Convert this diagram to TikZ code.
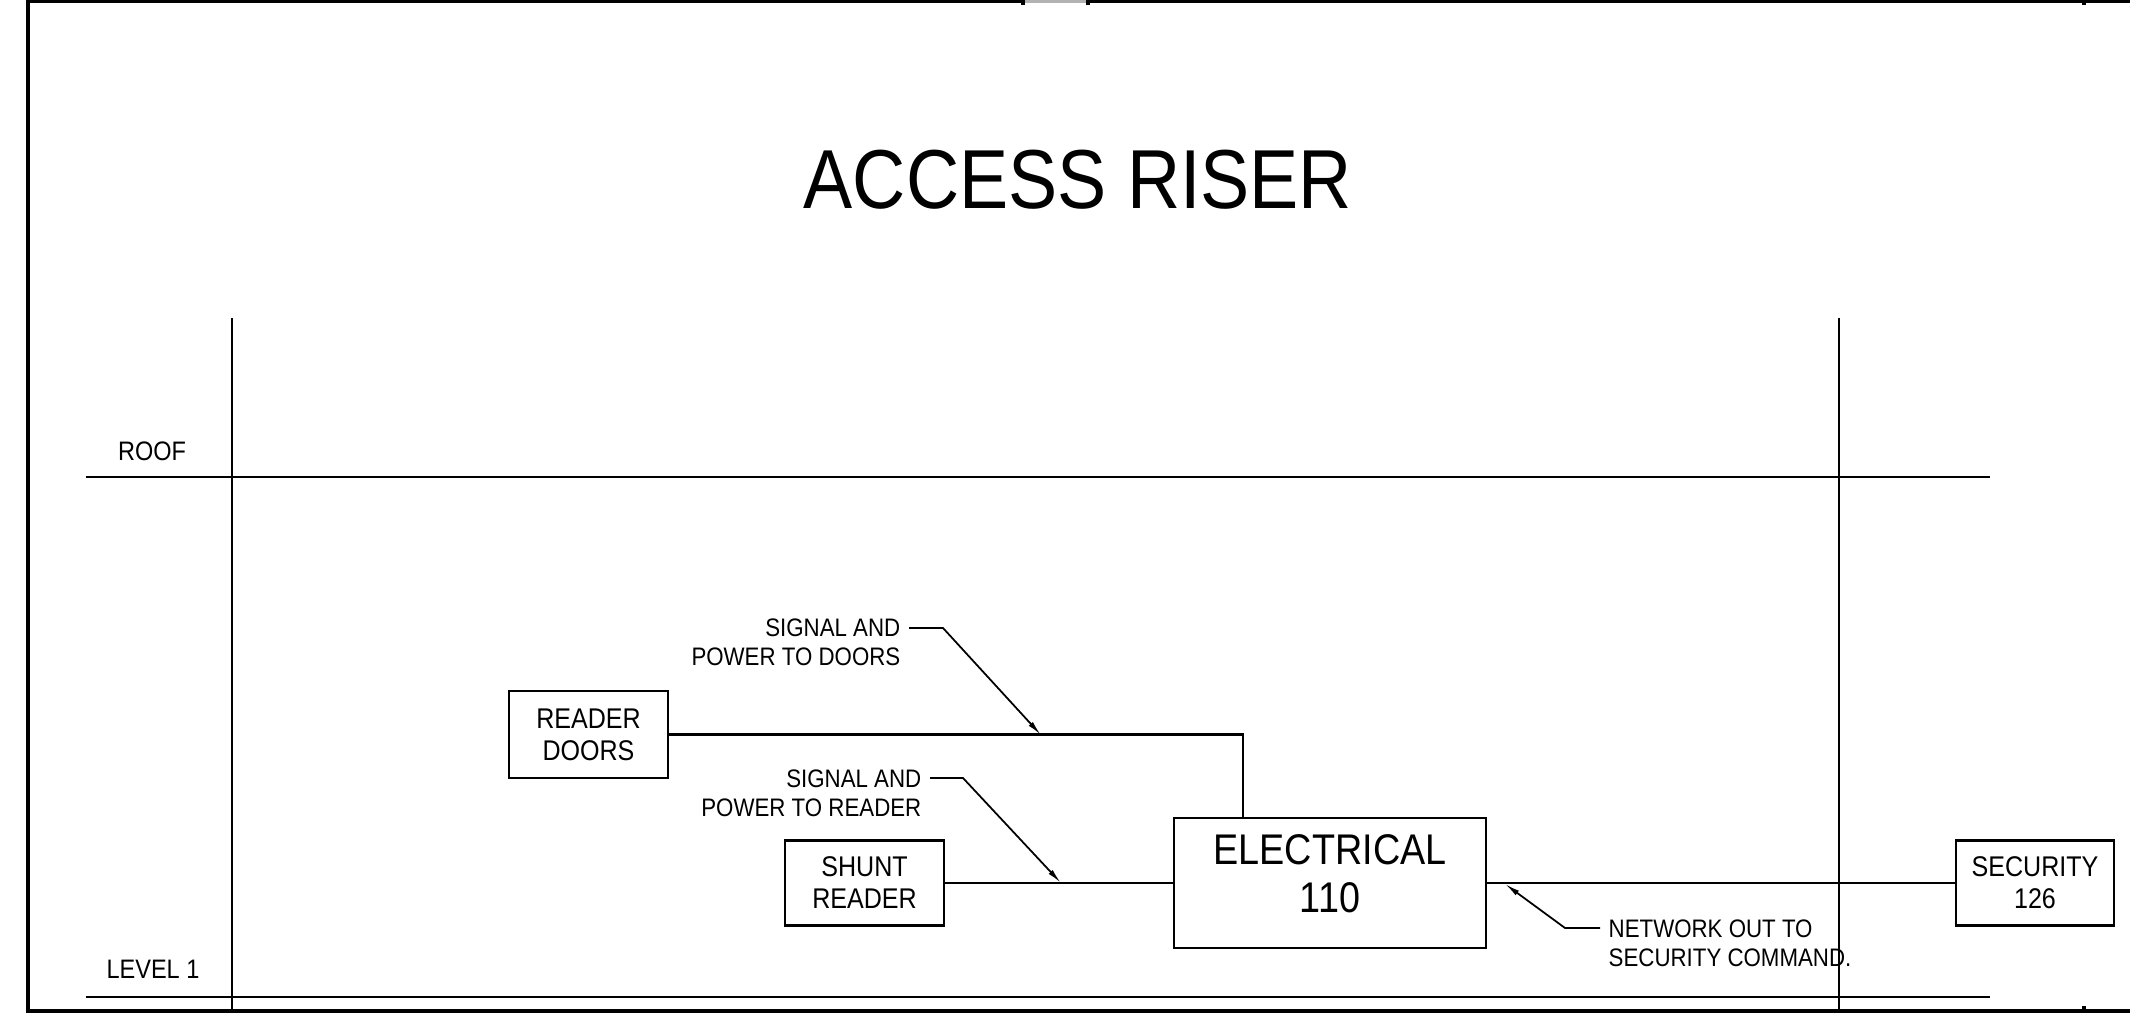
\documentclass[tikz,border=0pt]{standalone}
\usepackage{fontspec}
\setmainfont{Liberation Sans}[FakeStretch=0.88]
\usetikzlibrary{arrows.meta,positioning}
\tikzset{>=Latex}
\tikzset{
  box/.style={draw, line width=0.6pt, inner sep=0pt, align=center, font=\fontsize{8.1}{9.1}\selectfont},
  bigbox/.style={draw, line width=0.6pt, inner sep=0pt, minimum width=3.12cm, minimum height=1.30cm},
  wire/.style={line width=0.6pt},
  leader/.style={line width=0.5pt, -{Latex[length=4.3pt,width=1.6pt]}},
  note/.style={inner sep=0pt, font=\fontsize{7.2}{8.2}\selectfont},
  level/.style={inner sep=0pt, font=\fontsize{7.6}{9}\selectfont},
  sheet/.style={line width=0.9pt},
}

\begin{document}
\begin{tikzpicture}[x=0.01cm, y=-0.01cm]
\useasboundingbox (0,0) rectangle (2130,1013);

% sheet border
\draw[sheet] (28,0) -- (28,1013);
\draw[sheet] (28,1.5) -- (1023,1.5);
\draw[sheet, black!30] (1023,1.5) -- (1088,1.5);
\draw[sheet] (1088,1.5) -- (2130,1.5);
\draw[sheet] (1023,0) -- (1023,5);
\draw[sheet] (1088,0) -- (1088,5);
\draw[sheet] (2084,0) -- (2084,5);
\draw[sheet] (28,1011) -- (2130,1011);
\draw[sheet] (2084,1013) -- (2084,1006);

% title
\node[inner sep=0pt, font=\fontsize{23.8}{29}\selectfont] (title) at (1078,180) {ACCESS RISER};

% risers and floor levels
\draw[wire] (232,318) -- (232,1013);
\draw[wire] (1839,318) -- (1839,1013);
\draw[wire] (86,477) -- (1990,477);
\draw[wire] (86,997) -- (1990,997);
\node[level] (roof) at (152,451) {ROOF};
\node[level] (lvl1) at (153,969) {LEVEL 1};

% equipment
\node[box, minimum width=1.59cm, minimum height=0.87cm] (reader) at (588.5,734.5) {READER\\DOORS};
\node[box, minimum width=1.59cm, minimum height=0.85cm] (shunt) at (864.5,883) {SHUNT\\READER};
\node[bigbox] (elec) at (1330,883) {};
\node[inner sep=0pt, align=center, font=\fontsize{12.2}{13.7}\selectfont] (elabel) at ([yshift=0.09cm]elec.center) {ELECTRICAL\\110};
\node[box, minimum width=1.58cm, minimum height=0.85cm] (sec) at (2035,883) {SECURITY\\126};

% wiring
\draw[wire] (reader.east) -| ([xshift=0.7cm]elec.north west);
\draw[wire] (shunt.east) -- (elec.west);
\draw[wire] (elec.east) -- (sec.west);

% callouts
\node[note, align=right, anchor=east] (dnote) at (901,642) {SIGNAL AND\\POWER TO DOORS};
\coordinate (d1) at (909,628);
\coordinate (dtip) at (1041,735);
\draw[leader] (d1) -- ++(34,0) -- (dtip);

\node[note, align=right, anchor=east] (rnote) at (922,793) {SIGNAL AND\\POWER TO READER};
\coordinate (r1) at (930,778);
\coordinate (rtip) at (1061,883);
\draw[leader] (r1) -- ++(33,0) -- (rtip);

\node[note, align=left, anchor=west] (nnote) at (1608,943) {NETWORK OUT TO\\SECURITY COMMAND.};
\coordinate (n1) at (1600,928);
\coordinate (ntip) at (1505,884);
\draw[leader] (n1) -- ++(-35,0) -- (ntip);

\end{tikzpicture}
\end{document}
